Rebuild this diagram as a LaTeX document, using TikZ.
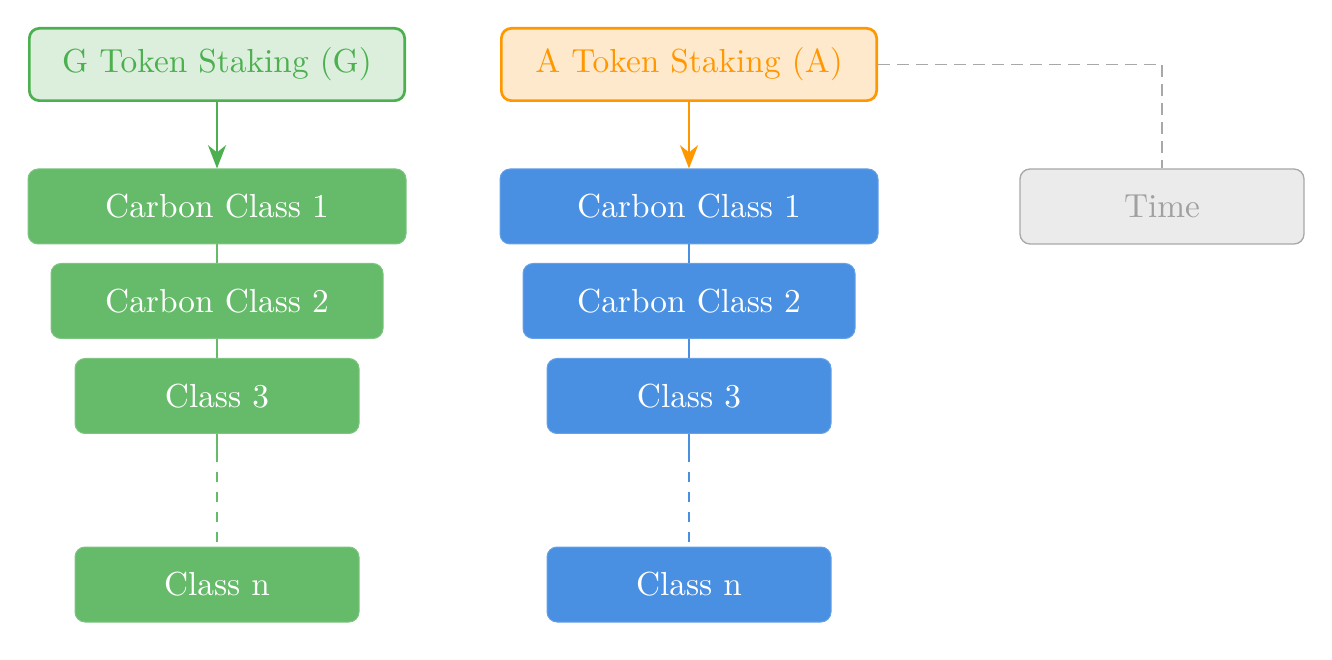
\documentclass[tikz,border=0pt]{standalone}
\usetikzlibrary{arrows.meta}
\definecolor{gline}{HTML}{4CAF50}
\definecolor{gfill}{HTML}{DCEFDC}
\definecolor{gbox}{HTML}{66BB6A}
\definecolor{oline}{HTML}{FF9800}
\definecolor{ofill}{HTML}{FFE9CC}
\definecolor{bbox}{HTML}{4A90E2}
\definecolor{tfill}{HTML}{EBEBEB}
\definecolor{tline}{HTML}{A8A8A8}
\definecolor{ttext}{HTML}{A0A0A0}
\begin{document}
\begin{tikzpicture}[x=0.3pt,y=-0.3pt,
  base/.style={rounded corners=3pt,inner sep=0pt,font=\fontsize{10}{12}\selectfont},
  titlebox/.style={base,minimum width=112.6pt,minimum height=21.7pt,line width=0.8pt},
  gtitle/.style={titlebox,draw=gline,fill=gfill,text=gline},
  otitle/.style={titlebox,draw=oline,fill=ofill,text=oline},
  gcls/.style={base,fill=gbox,draw=gbox!85!white,line width=0.3pt,text=white,minimum height=22.5pt},
  bcls/.style={base,fill=bbox,draw=bbox!85!white,line width=0.3pt,text=white,minimum height=22.5pt},
  timebox/.style={base,fill=tfill,draw=tline,line width=0.4pt,text=ttext,minimum width=85.2pt,minimum height=22.5pt},
  wide/.style={minimum width=113.4pt},
  mid/.style={minimum width=99.6pt},
  narrow/.style={minimum width=85.2pt},
  flow/.style={line width=0.8pt,-{Stealth[length=7pt,width=5.4pt,inset=2.2pt]}},
  link/.style={line width=0.7pt},
  dlink/.style={line width=0.7pt,dash pattern=on 3pt off 3pt},
  glink/.style={line width=0.5pt,draw=tline,dash pattern=on 3.6pt off 2.1pt}]
\useasboundingbox (0,0) rectangle (1332,660);
% green column
\node[gtitle] (gt) at (217,64.5) {G Token Staking (G)};
\node[gcls,wide] (g1) at (217,206.5) {Carbon Class 1};
\node[gcls,mid] (g2) at (217,301) {Carbon Class 2};
\node[gcls,narrow] (g3) at (217,396) {Class 3};
\node[gcls,narrow] (gn) at (217,584.5) {Class n};
\coordinate (gd) at (217,452);
% blue column
\node[otitle] (at) at (689,64.5) {A Token Staking (A)};
\node[bcls,wide] (b1) at (689,206.5) {Carbon Class 1};
\node[bcls,mid] (b2) at (689,301) {Carbon Class 2};
\node[bcls,narrow] (b3) at (689,396) {Class 3};
\node[bcls,narrow] (bn) at (689,584.5) {Class n};
\coordinate (bd) at (689,452);
% time
\node[timebox] (tm) at (1162,206.5) {Time};
% connectors
\draw[flow,gline] (gt.south) -- (g1.north);
\draw[flow,oline] (at.south) -- (b1.north);
\draw[link,gbox] (g1.south) -- (g2.north);
\draw[link,gbox] (g2.south) -- (g3.north);
\draw[link,gbox] (g3.south) -- (gd);
\draw[dlink,gbox] (gd) -- (gn.north);
\draw[link,bbox] (b1.south) -- (b2.north);
\draw[link,bbox] (b2.south) -- (b3.north);
\draw[link,bbox] (b3.south) -- (bd);
\draw[dlink,bbox] (bd) -- (bn.north);
\draw[glink] (at.east) -| (tm.north);
\end{tikzpicture}
\end{document}
